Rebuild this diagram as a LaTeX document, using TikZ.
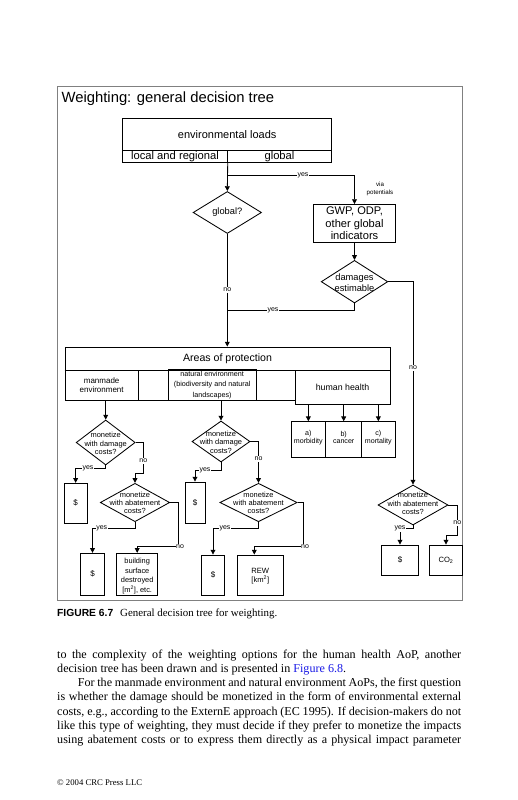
\documentclass[tikz,border=0pt]{standalone}
\usepackage{fontspec}
\setmainfont{Liberation Serif}
\setsansfont{Liberation Sans}
\usetikzlibrary{shapes.geometric,arrows.meta,calc}
\definecolor{framegray}{gray}{0.5}
\definecolor{linkblue}{RGB}{25,25,230}
\newcommand\fsz[2]{\fontsize{#1pt}{#2pt}\selectfont}
\begin{document}
\begin{tikzpicture}[x=1pt,y=-1pt,
  ln/.style={line width=0.85pt, black},
  arr/.style={ln, -{Triangle[length=4.8pt,width=4.8pt]}},
  bx/.style={draw, line width=0.85pt, inner sep=0pt, align=center, font=\sffamily},
  dia/.style={draw, diamond, line width=0.85pt, inner sep=0pt},
  lbl/.style={fill=white, inner sep=0.6pt, font=\sffamily\fsz{7}{8}},
  dtxt/.style={align=center, inner sep=0pt, font=\sffamily\fsz{7.45}{8.3}},
  body/.style={anchor=base west, inner sep=0pt, font=\fsz{12.1}{14}}
]
\useasboundingbox (0,0) rectangle (518,800);
\fill[white] (0,0) rectangle (518,800);

% frame and title
\draw[framegray, line width=0.9pt] (57,86) rectangle (462,600);
\node[anchor=base west, inner sep=0pt, font=\sffamily\fsz{14.8}{17}] (title) at (61.5,102.5) {Weighting: general decision tree};

% environmental loads
\node[bx, minimum width=209, minimum height=31.7, font=\sffamily\fsz{11}{13}] (env) at (227.2,134.2) {environmental loads};
\node[bx, minimum width=104.6, minimum height=12.3, font=\sffamily\fsz{11.2}{13}] (loc) at (175,156.2) {local and regional};
\node[bx, minimum width=104.4, minimum height=12.3, font=\sffamily\fsz{11.2}{13}] (glob) at (279.5,156.2) {global};

% global?
\node[dia, minimum width=68.4, minimum height=42] (gq) at (227.3,212.5) {};
\node[inner sep=0pt, font=\sffamily\fsz{9.3}{11}] at (gq) {global?};
\draw[arr] (loc.south east) -- (gq.north);
\coordinate (yb) at (227.3,175);
\node[bx, minimum width=81.4, minimum height=38.2, font=\sffamily\fsz{11.1}{12.5}] (gwp) at (354.5,223.6) {GWP, ODP,\\other global\\indicators};
\draw[arr] (yb) -| (gwp.north);
\node[lbl] at (303,175) {yes};
\node[align=center, inner sep=0pt, font=\sffamily\fsz{6.2}{8.3}] (via) at (380,189) {via\\potentials};

% damages estimable
\node[dia, minimum width=66.6, minimum height=42.6] (dam) at (354.5,281.7) {};
\node[align=center, inner sep=0pt, font=\sffamily\fsz{9.3}{11.6}] at (354.5,282.5) {damages\\estimable};
\draw[arr] (gwp.south) -- (dam.north);

% areas of protection
\node[bx, minimum width=325, minimum height=53] (aop) at (227.5,373.5) {};
\node[inner sep=0pt, font=\sffamily\fsz{10.6}{12}] (aoptitle) at (227.5,358.3) {Areas of protection};
\draw[ln] (aop.west |- 0,370.5) -- (aop.east |- 0,370.5);
\draw[arr] (gq.south) -- (gq.south |- aop.north);
\coordinate (jn) at (227.3,310.7);
\draw[ln] (dam.south) |- (jn);
\node[lbl] at (227.3,290) {no};
\node[lbl] at (273,310.7) {yes};

\node[bx, minimum width=73.3, minimum height=29.5, font=\sffamily\fsz{8}{9.4}] (mm) at (101.65,385.25) {manmade\\environment};
\node[bx, minimum width=87.7, minimum height=30.6, font=\sffamily\fsz{7.2}{10.8}] (nat) at (212.15,385) {natural environment\\(biodiversity and natural\\landscapes)};
\node[bx, fill=white, minimum width=95, minimum height=33.5, font=\sffamily\fsz{8.8}{10}] (hh) at (342.5,387.25) {human health};

% human health sub-boxes
\node[bx, minimum width=34.7, minimum height=35.3] (hha) at (308.35,439.35) {};
\node[bx, minimum width=36, minimum height=35.3] (hhb) at (343.7,439.35) {};
\node[bx, minimum width=33.3, minimum height=35.3] (hhc) at (378.35,439.35) {};
\node[dtxt, font=\sffamily\fsz{7.1}{7.8}] at (308.35,437.5) {a)\\morbidity};
\node[dtxt, font=\sffamily\fsz{7.1}{7.8}] at (343.7,437.5) {b)\\cancer};
\node[dtxt, font=\sffamily\fsz{7.1}{7.8}] at (378.35,437.5) {c)\\mortality};
\draw[arr] (hha.north |- hh.south) -- (hha.north);
\draw[arr] (hhb.north |- hh.south) -- (hhb.north);
\draw[arr] (hhc.north |- hh.south) -- (hhc.north);

% column 1 (manmade)
\node[dia, minimum width=59, minimum height=45] (d1a) at (105.7,442.5) {};
\node[dtxt] at (105.7,443.5) {monetize\\with damage\\costs?};
\draw[arr] (d1a.north |- mm.south) -- (d1a.north);
\node[bx, minimum width=23.3, minimum height=39.7, font=\sffamily\fsz{8}{9}] (s1) at (75.65,503.15) {\$};
\node[dia, minimum width=69.4, minimum height=38.4] (d2a) at (135,502.5) {};
\node[dtxt] at (135,503) {monetize\\with abatement\\costs?};
\draw[arr] (d1a.east) -| (143.3,473.3) -| (d2a.north);
\node[lbl] at (143.3,461) {no};
\draw[arr] (d1a.south) -- ++(0,3.3) -| (s1.north);
\node[lbl] at (88,468.3) {yes};
\node[bx, minimum width=23.5, minimum height=41.7, font=\sffamily\fsz{8}{9}] (s2) at (92.5,574.15) {\$};
\node[bx, minimum width=41, minimum height=41.7] (bld) at (137.2,574.15) {};
\node[dtxt, font=\sffamily\fsz{7.4}{9.4}] at (137.2,576) {building\\surface\\destroyed\\{[}m\textsuperscript{2}], etc.};
\draw[arr] (d2a.south) -- ++(0,6.6) -| (s2.north);
\node[lbl] at (101.7,528.3) {yes};
\draw[arr] (d2a.east) -| (178.3,546.7) -| (bld.north);
\node[lbl] at (180,546.7) {no};

% column 2 (natural)
\node[dia, minimum width=58, minimum height=41] (d1b) at (221,441.5) {};
\node[dtxt] at (221,442.3) {monetize\\with damage\\costs?};
\draw[arr] (d1b.north |- nat.south) -- (d1b.north);
\node[bx, minimum width=20, minimum height=41.3, font=\sffamily\fsz{8}{9}] (s3) at (195,502.65) {\$};
\node[dia, minimum width=77.3, minimum height=38.4] (d2b) at (258.5,502.5) {};
\node[dtxt] at (258.5,503) {monetize\\with abatement\\costs?};
\draw[arr] (d1b.east) -| (d2b.north);
\node[lbl] at (258.5,459) {no};
\draw[arr] (d1b.south) -- ++(0,8) -| (s3.north);
\node[lbl] at (205,470) {yes};
\node[bx, minimum width=22.6, minimum height=40, font=\sffamily\fsz{8}{9}] (s4) at (213,575) {\$};
\node[bx, minimum width=46, minimum height=40] (rew) at (260.3,575) {};
\node[dtxt, font=\sffamily\fsz{7.6}{9}] at (260.3,576) {REW\\{[}km\textsuperscript{2}]};
\coordinate (rewin) at ($(rew.north)+(-6,0)$);
\draw[arr] (d2b.south) -- ++(0,6.3) -| (s4.north);
\node[lbl] at (225,528) {yes};
\draw[arr] (d2b.east) -| (303.3,546.7) -| (rewin);
\node[lbl] at (305,546.7) {no};

% right column
\node[dia, minimum width=70, minimum height=40] (dR) at (413,505) {};
\node[dtxt] at (413,503.5) {monetize\\with abatement\\costs?};
\draw[arr] (dam.east) -| (dR.north);
\node[lbl] at (413,368) {no};
\node[bx, minimum width=36.6, minimum height=30, font=\sffamily\fsz{8}{9}] (s5) at (400,560) {\$};
\node[bx, minimum width=33.4, minimum height=30, font=\sffamily\fsz{7.6}{9}] (co2) at (446,560) {CO\textsubscript{2}};
\draw[arr] (dR.south) -- ++(0,3.3) -| (s5.north);
\node[lbl] at (400,528.3) {yes};
\draw[arr] (dR.east) -| (457.3,535) -| (co2.north);
\node[lbl] at (457.3,523) {no};

% caption
\node[anchor=base west, inner sep=0pt, font=\sffamily\bfseries\fsz{10.3}{12}] (capl) at (57,616.7) {FIGURE 6.7};
\node[anchor=base west, inner sep=0pt, font=\fsz{10.9}{13}] (capt) at (120,616.7) {General decision tree for weighting.};

% body text
\node[body] (l1) at (57,658.3) {\makebox[404pt][s]{to the complexity of the weighting options for the human health AoP, another}};
\node[body] (l2) at (57,672.5) {decision tree has been drawn and is presented in \textcolor{linkblue}{Figure 6.8}.};
\node[body] (l3) at (77.7,686.7) {\makebox[383.3pt][s]{For the manmade environment and natural environment AoPs, the first question}};
\node[body] (l4) at (57,700.9) {\makebox[404pt][s]{is whether the damage should be monetized in the form of environmental external}};
\node[body] (l5) at (57,715.1) {\makebox[404pt][s]{costs, e.g., according to the ExternE approach (EC 1995). If decision-makers do not}};
\node[body] (l6) at (57,729.3) {\makebox[404pt][s]{like this type of weighting, they must decide if they prefer to monetize the impacts}};
\node[body] (l7) at (57,743.5) {\makebox[404pt][s]{using abatement costs or to express them directly as a physical impact parameter}};

\node[anchor=base west, inner sep=0pt, font=\fsz{8.7}{10}] (copy) at (57,785) {© 2004 CRC Press LLC};
\end{tikzpicture}
\end{document}
